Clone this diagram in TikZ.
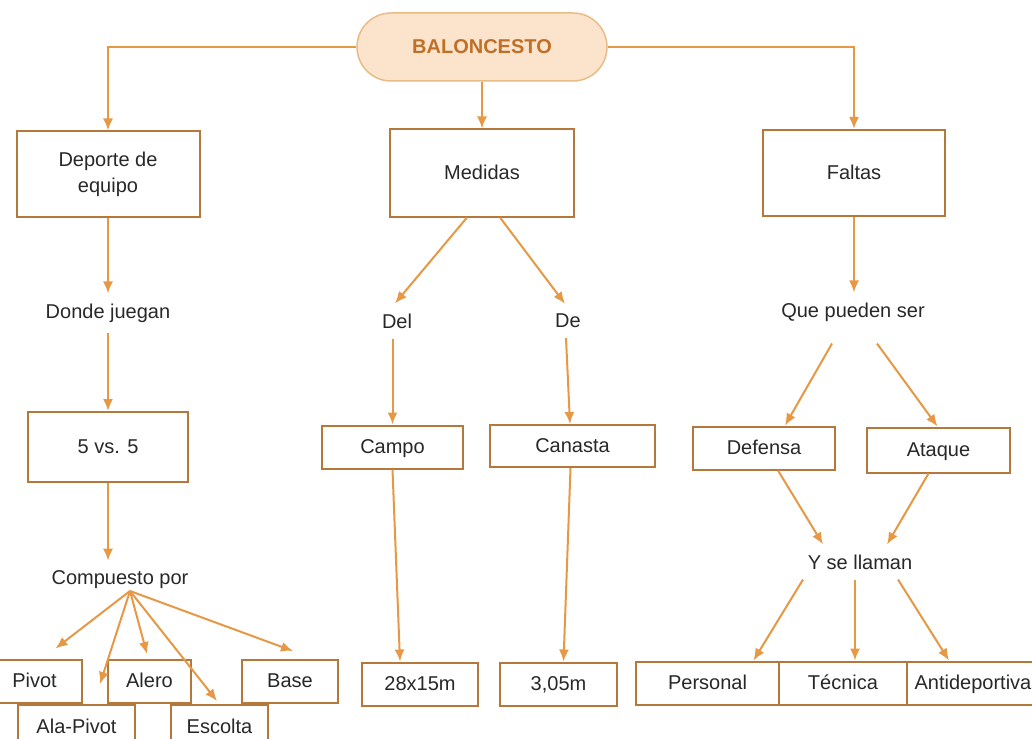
\documentclass[tikz,border=0pt]{standalone}
\usepackage{fontspec}
\setmainfont{Liberation Sans}
\usetikzlibrary{arrows.meta}
\definecolor{boxc}{RGB}{180,120,58}
\definecolor{arrc}{RGB}{230,152,68}
\definecolor{pillfill}{RGB}{252,228,204}
\definecolor{pilldraw}{RGB}{232,188,135}
\definecolor{pilltext}{RGB}{190,112,40}
\definecolor{txt}{RGB}{40,40,40}
\begin{document}
\begin{tikzpicture}[x=1pt,y=-1pt,
	font=\fontsize{20}{24}\selectfont,
	box/.style={draw=boxc, line width=2pt, fill=white, text=txt, minimum height=43pt, inner sep=2pt, text height=14.5pt, text depth=1.5pt},
	lbl/.style={text=txt, inner sep=10pt},
	arr/.style={draw=arrc, line width=2pt, -{Latex[length=12pt,width=10pt]}}]
	\useasboundingbox (0,0) rectangle (1032,738);
	\clip (0,0) rectangle (1032,738);
	% top
	\node[draw=pilldraw, fill=pillfill, line width=1.5pt, rounded corners=34pt, minimum width=250pt, minimum height=68pt, text=pilltext, font=\fontsize{20}{24}\selectfont\bfseries] (bal) at (482,47) {BALONCESTO};
	\node[box, text height={}, text depth={}, minimum width=183pt, minimum height=85pt, align=center, font=\fontsize{20}{26}\selectfont] (dep) at (108,174) {Deporte de\\equipo};
	\node[box, minimum width=184pt, minimum height=87pt] (med) at (482,173) {Medidas};
	\node[box, minimum width=182pt, minimum height=86pt] (fal) at (854,173) {Faltas};
	% left column
	\node[lbl] (donde) at (108,313) {Donde juegan};
	\node[box, minimum width=160pt, minimum height=70pt] (cinco) at (108,447) {5 vs. 5};
	\node[lbl] (comp) at (120,580) {Compuesto por};
	\coordinate (fan) at (130,591);
	\node[box, minimum width=95pt] (pivot) at (34.5,681) {Pivot};
	\node[box, minimum width=83pt] (alero) at (149.5,681) {Alero};
	\node[box, minimum width=96pt] (base) at (290,681) {Base};
	\node[box, minimum width=117pt, minimum height=44pt] (alapivot) at (76.5,727) {Ala-Pivot};
	\node[box, minimum width=97pt, minimum height=44pt] (escolta) at (219.5,727) {Escolta};
	% middle column
	\node[lbl] (del) at (397,321) {Del};
	\node[lbl] (de) at (568,321) {De};
	\node[box, minimum width=141pt] (campo) at (392.5,447) {Campo};
	\node[box, minimum width=165pt, minimum height=42pt] (canasta) at (572.5,446) {Canasta};
	\node[box, minimum width=116pt] (m28) at (420,684) {28x15m};
	\node[box, minimum width=117pt] (m305) at (558.5,684) {3,05m};
	% right column
	\node[lbl] (que) at (853,312) {Que pueden ser};
	\node[box, minimum width=142pt] (defensa) at (764,448) {Defensa};
	\node[box, minimum width=143pt, minimum height=45pt] (ataque) at (938.5,450) {Ataque};
	\node[lbl] (yse) at (860,562) {Y se llaman};
	\node[box, minimum width=143pt] (personal) at (707.5,683) {Personal};
	\node[box, minimum width=128pt] (tecnica) at (843,683) {Técnica};
	\node[box, minimum width=132pt] (anti) at (973,683) {Antideportiva};
	% arrows
	\draw[arr] (bal.west) -| (dep.north);
	\draw[arr] (bal.south) -- (med.north);
	\draw[arr] (bal.east) -| (fal.north);
	\draw[arr] (dep.south) -- (donde.north);
	\draw[arr] (donde.south) -- (cinco.north);
	\draw[arr] (cinco.south) -- ([xshift=-12pt]comp.north);
	\draw[arr] (fan) -- ([xshift=21pt,yshift=10pt]pivot.north);
	\draw[arr] (fan) -- ([xshift=23.5pt,yshift=20pt]alapivot.north);
	\draw[arr] (fan) -- ([xshift=-2.5pt,yshift=4.5pt]alero.north);
	\draw[arr] (fan) -- ([xshift=-2.5pt,yshift=3pt]escolta.north);
	\draw[arr] (fan) -- ([xshift=3pt,yshift=7.5pt]base.north);
	\draw[arr] ([xshift=-15pt]med.south) -- ([xshift=-2pt]del.north);
	\draw[arr] ([xshift=18pt]med.south) -- ([xshift=-3pt]de.north);
	\draw[arr] (del.south -| campo.north) -- (campo.north);
	\draw[arr] ([xshift=-2pt]de.south) -- ([xshift=-2.5pt]canasta.north);
	\draw[arr] (campo.south) -- ([xshift=-20pt]m28.north);
	\draw[arr] ([xshift=-2pt]canasta.south) -- ([xshift=5pt]m305.north);
	\draw[arr] (fal.south) -- (fal.south |- que.north);
	\draw[arr] ([xshift=-21pt,yshift=-12pt]que.south) -- ([xshift=21pt]defensa.north);
	\draw[arr] ([xshift=24pt,yshift=-12pt]que.south) -- ([xshift=-1pt]ataque.north);
	\draw[arr] ([xshift=14pt]defensa.south) -- ([xshift=-37pt]yse.north);
	\draw[arr] ([xshift=-10pt]ataque.south) -- ([xshift=27pt]yse.north);
	\draw[arr] ([xshift=-57pt]yse.south) -- ([xshift=46pt]personal.north);
	\draw[arr] ([xshift=-5pt]yse.south) -- ([xshift=12pt]tecnica.north);
	\draw[arr] ([xshift=38pt]yse.south) -- ([xshift=-24pt]anti.north);
\end{tikzpicture}
\end{document}
